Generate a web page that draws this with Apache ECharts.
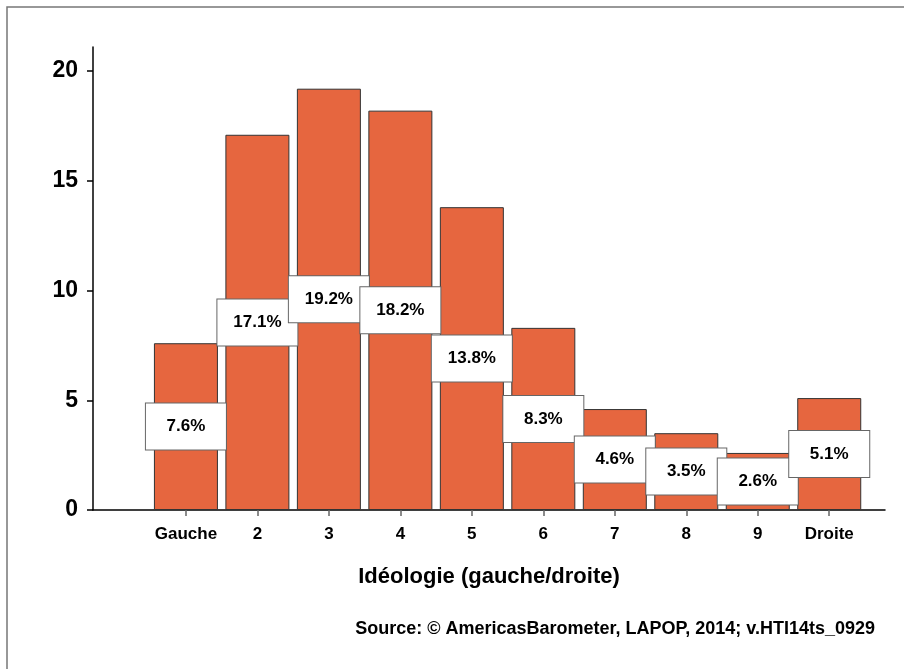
<!DOCTYPE html>
<html>
<head>
<meta charset="utf-8">
<script src="https://cdn.jsdelivr.net/npm/echarts@6/dist/echarts.min.js"></script>
<style>
html,body{margin:0;padding:0;background:#fff;}
#chart{width:904px;height:669px;}
</style>
</head>
<body>
<div id="chart"></div>
<script>
//categories and values
var categories=["Gauche","2","3","4","5","6","7","8","9","Droite"];
var positions=[1,2,3,4,5,6,7,8,9,10];
var values=[7.6,17.1,19.2,18.2,13.8,8.3,4.6,3.5,2.6,5.1];
var yTicks=[0,5,10,15,20];

var FONT='"Liberation Sans", Arial, Helvetica, sans-serif';

var barData=[];
for(var i=0;i<values.length;i++){
    barData.push([positions[i],values[i]]);
}

var chart=echarts.init(document.getElementById("chart"));
var option={
    animation:false,
    backgroundColor:"#fff",
    textStyle:{fontFamily:FONT},
    graphic:[{
        type:"rect",
        shape:{x:7,y:7,width:960,height:720},
        style:{fill:"none",stroke:"#777",lineWidth:1.5},
        silent:true
    },{
        type:"text",
        right:29,
        top:620,
        style:{
            text:"Source: \u00a9 AmericasBarometer, LAPOP, 2014; v.HTI14ts_0929",
            font:"bold 18px "+FONT,
            fill:"#000"
        }
    }],
    grid:{
        left:93,
        right:19,
        top:47,
        bottom:159,
        containLabel:false,
        outerBoundsMode:"none"
    },
    xAxis:{
        type:"value",
        min:-0.3,
        max:10.78,
        name:"Idéologie (gauche/droite)",
        nameLocation:"middle",
        nameGap:56,
        nameTextStyle:{
            color:"#000",
            fontSize:22,
            fontWeight:"bold",
            fontFamily:FONT
        },
        axisLine:{
            show:true,
            onZero:false,
            lineStyle:{color:"#000",width:1.5}
        },
        axisTick:{
            show:true,
            customValues:positions,
            length:6,
            lineStyle:{color:"#666",width:1.5}
        },
        axisLabel:{
            customValues:positions,
            margin:16,
            color:"#000",
            fontSize:17,
            fontWeight:"bold",
            fontFamily:FONT,
            formatter:function(v){
                return categories[Math.round(v)-1];
            }
        },
        splitLine:{show:false}
    },
    yAxis:{
        type:"value",
        min:0,
        max:21.1,
        axisLine:{
            show:true,
            onZero:false,
            lineStyle:{color:"#000",width:1.5}
        },
        axisTick:{
            show:true,
            customValues:yTicks,
            length:6,
            lineStyle:{color:"#000",width:1.5}
        },
        axisLabel:{
            customValues:yTicks,
            margin:15,
            color:"#000",
            fontSize:23,
            fontWeight:"bold",
            fontFamily:FONT
        },
        splitLine:{show:false}
    },
    series:[{
        type:"bar",
        barWidth:64,
        data:barData,
        itemStyle:{
            color:"#e6663f",
            borderColor:"#333",
            borderWidth:1
        },
        label:{
            show:true,
            position:"inside",
            formatter:function(p){
                return p.value[1].toFixed(1)+"%";
            },
            color:"#000",
            fontSize:17,
            fontWeight:"bold",
            fontFamily:FONT,
            backgroundColor:"#fff",
            borderColor:"#666",
            borderWidth:1,
            width:80,
            height:46,
            lineHeight:46,
            align:"center",
            verticalAlign:"middle"
        }
    }]
};
chart.setOption(option);
</script>
</body>
</html>
